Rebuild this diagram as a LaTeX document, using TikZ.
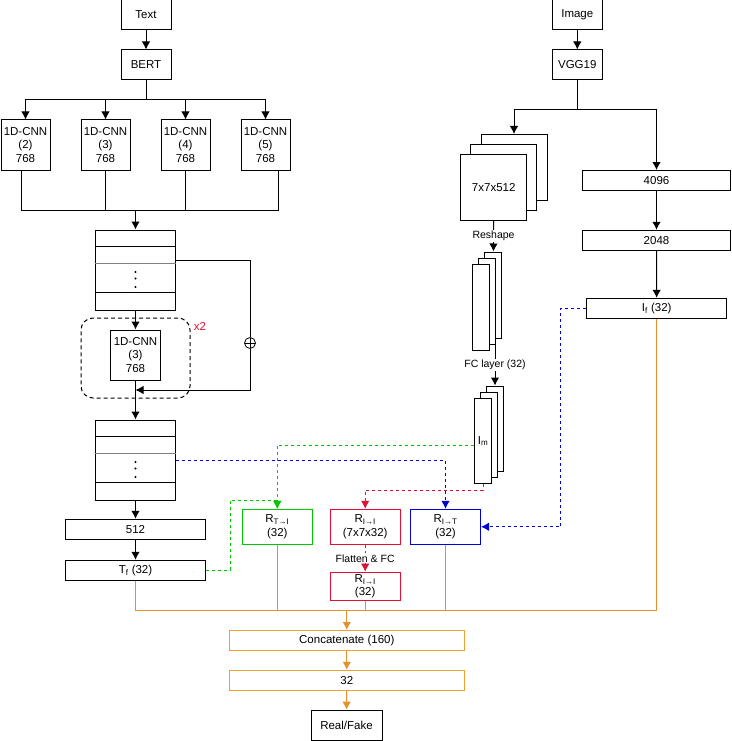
\documentclass[tikz,border=0pt]{standalone}
\usepackage{fontspec}
\setmainfont{Liberation Sans}
\usepackage{xcolor}
\usepackage{tikz}
\usetikzlibrary{arrows.meta, positioning}
\definecolor{grn}{HTML}{00C800}
\definecolor{rd}{HTML}{E01035}
\definecolor{blu}{HTML}{0000D8}
\definecolor{org}{HTML}{E6912D}
\definecolor{orgbox}{HTML}{F0A030}
\tikzset{
  box/.style={rectangle, draw, fill=white, align=center, inner sep=1pt, font=\fontsize{11.5}{13.5}\selectfont},
  plate/.style={rectangle, draw, fill=white, inner sep=0pt},
  lbl/.style={fill=white, text=black, inner sep=1pt, font=\fontsize{10.5}{12}\selectfont},
  line/.style={-{Latex[length=8pt, width=8.5pt]}},
  link/.style={dash pattern=on 3pt off 3pt},
  oplus/.style={circle, draw, fill=white, minimum size=11pt, inner sep=0pt, line width=0.8pt,
    path picture={\draw[line width=0.8pt] (path picture bounding box.west) -- (path picture bounding box.east)
      (path picture bounding box.north) -- (path picture bounding box.south);}}
}

\begin{document}
\begin{tikzpicture}[x=1pt, y=-1pt, line width=1pt]
    \useasboundingbox (0,0) rectangle (731,741);
    % text branch
    \node[box, minimum width=50, minimum height=30] (text) at (146,15) {Text};
    \node[box, minimum width=50, minimum height=30] (bert) at (146,65) {BERT};
    \foreach \k/\x in {2/25.5, 3/105.5, 4/185.5, 5/265.5}
      \node[box, minimum width=49, minimum height=50] (cnn\k) at (\x,145) {1D-CNN\\(\k)\\768};
    \coordinate (split) at (146,100);
    \coordinate (merge) at (135.5,210);
    \draw[line] (text) -- (bert);
    \draw (bert) -- (split);
    \foreach \k in {2,...,5}
      \draw[line] (split) -| (cnn\k);
    \draw ([xshift=-4.5pt]cnn2.south) |- (merge);
    \draw ([xshift=12.5pt]cnn5.south) |- (merge);
    \draw (cnn3) |- (merge);
    \draw (cnn4) |- (merge);

    \node[plate, minimum width=80, minimum height=80] (seqA) at (135.5,270) {};
    \node[plate, minimum width=80, minimum height=80] (seqB) at (135.5,460) {};
    \foreach \s in {seqA, seqB} {
      \draw ([yshift=-17pt]\s.north west) -- ([yshift=-17pt]\s.north east);
      \draw[gray, line width=1.6pt] ([yshift=-34pt]\s.north west) -- ([yshift=-34pt]\s.north east);
      \draw ([yshift=18pt]\s.south west) -- ([yshift=18pt]\s.south east);
      \foreach \d in {-2,-8.5,-17}
        \fill ([yshift=\d pt]\s.center) circle (1.1pt);
    }
    \draw[line] (merge) -- (seqA);

    % repeated block
    \node[draw, dash pattern=on 4pt off 3pt, rounded corners=12pt, minimum width=109, minimum height=80] (rep) at (135.5,358) {};
    \node[box, minimum width=50, minimum height=50] (cnnR) at (135.5,355) {1D-CNN\\(3)\\768};
    \node[text=rd, font=\fontsize{11.5}{13.5}\selectfont] (times) at (200,326) {x2};
    \node[oplus] (plus) at (250,343) {};
    \coordinate (join) at (135.5,390);
    \draw[line] (seqA) -- (cnnR);
    \draw ([yshift=10pt]seqA.east) -| (plus);
    \draw[line] (plus) |- (join);
    \draw (cnnR) -- (join);
    \draw[line] (join) -- (seqB);

    \node[box, minimum width=140, minimum height=20] (fc512) at (135.5,529.3) {512};
    \node[box, minimum width=140, minimum height=20] (tf) at (135.5,570.3) {T\textsubscript{f} (32)};
    \draw[line] (seqB) -- (fc512);
    \draw[line] (fc512) -- (tf);

    % image branch
    \node[box, minimum width=50, minimum height=30] (image) at (577.3,15) {Image};
    \node[box, minimum width=50, minimum height=30] (vgg) at (577.3,65) {VGG19};
    \coordinate (split2) at (577.3,110);
    \node[plate, minimum width=66, minimum height=66] (featC) at (514,167.5) {};
    \node[plate, minimum width=66, minimum height=66] (featB) at (503.7,177.3) {};
    \node[box, minimum width=66, minimum height=66] (featA) at (493.7,187.3) {7x7x512};
    \node[box, minimum width=148, minimum height=20] (fc4096) at (656.5,180.5) {4096};
    \node[box, minimum width=148, minimum height=20] (fc2048) at (656.5,240.3) {2048};
    \node[box, minimum width=140, minimum height=20] (imgf) at (656.7,308.3) {I\textsubscript{f} (32)};
    \draw[line] (image) -- (vgg);
    \draw (vgg) -- (split2);
    \draw[line] (split2) -| (featC);
    \draw[line] (split2) -| (fc4096);
    \draw[line] (fc4096) -- (fc2048);
    \draw[line] (fc2048) -- (imgf);

    \node[plate, minimum width=17, minimum height=86] (rsC) at (493.3,295) {};
    \node[plate, minimum width=17, minimum height=86] (rsB) at (487.3,301.3) {};
    \node[plate, minimum width=17, minimum height=86] (rsA) at (481,307.3) {};
    \node[plate, minimum width=17, minimum height=85] (imC) at (495,428.5) {};
    \node[plate, minimum width=17, minimum height=85] (imB) at (489,434.5) {};
    \node[plate, minimum width=17, minimum height=85, font=\fontsize{11.5}{13.5}\selectfont] (imA) at (483,441) {I\textsubscript{m}};
    \draw[line] (featA) -- node[lbl] {Reshape} (rsC);
    \draw[line] (rsB.south -| imC.north) -- node[lbl] {FC layer (32)} (imC.north);

    % cross-modal blocks
    \node[box, draw=grn, minimum width=70, minimum height=35] (rti) at (277.3,526.8) {R\textsubscript{T→I}\\(32)};
    \node[box, draw=rd, minimum width=70, minimum height=35] (rii) at (365.2,526.8) {R\textsubscript{I→I}\\(7x7x32)};
    \node[box, draw=blu, minimum width=70, minimum height=35] (rit) at (445.5,526.8) {R\textsubscript{I→T}\\(32)};
    \node[box, draw=rd, minimum width=70, minimum height=28] (rii2) at (365.2,586.2) {R\textsubscript{I→I}\\(32)};
    \coordinate (gbend) at (230,500);
    \coordinate (rbend) at (483,490);
    \coordinate (bbend) at (560.7,526.8);
    \draw[link, line, grn] (tf) -| (gbend) -| (rti);
    \draw[link, line, grn] ([yshift=-4pt]imA.west) -| (rti);
    \draw[link, line, blu] (seqB) -| (rit);
    \draw[link, line, blu] (imgf) -| (bbend) -- (rit);
    \draw[link, line, rd] (imA) -- (rbend) -| (rii);
    \draw[link, line, rd] (rii) -- node[lbl] {Flatten \& FC} (rii2);

    % fusion
    \coordinate (bus) at (346.8,610);
    \node[box, draw=orgbox, minimum width=235, minimum height=20] (concat) at (346.8,640.5) {Concatenate (160)};
    \node[box, draw=orgbox, minimum width=235, minimum height=20] (fc32) at (346.8,680.3) {32};
    \node[box, minimum width=71, minimum height=30] (out) at (346.5,725.2) {Real/Fake};
    \draw[org] (tf) |- (bus);
    \draw[org] (imgf) |- (bus);
    \draw[org] (rti) -- (rti |- bus);
    \draw[org] (rii2) -- (rii2 |- bus);
    \draw[org] (rit) -- (rit |- bus);
    \draw[line, org] (bus) -- (concat);
    \draw[line, org] (concat) -- (fc32);
    \draw[line, org] (fc32) -- (out);
\end{tikzpicture}
\end{document}
